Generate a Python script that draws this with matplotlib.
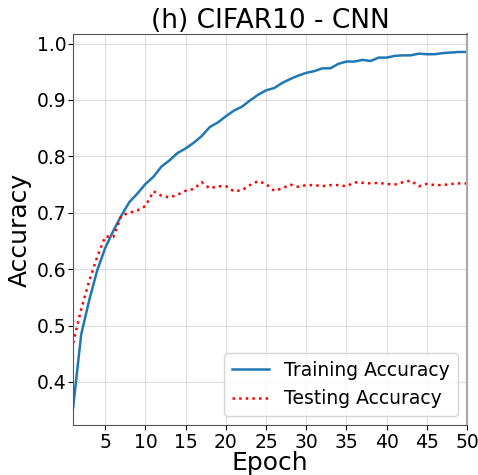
import numpy as np
import matplotlib.pyplot as plt

# --- values ---
epochs = np.arange(1, 51)

train_acc = [0.355, 0.484, 0.545, 0.598, 0.638, 0.668, 0.695, 0.719, 0.734, 0.751,
             0.764, 0.782, 0.793, 0.806, 0.814, 0.824, 0.836, 0.852, 0.860, 0.871,
             0.881, 0.888, 0.899, 0.909, 0.917, 0.921, 0.930, 0.937, 0.943, 0.948,
             0.951, 0.956, 0.956, 0.964, 0.968, 0.968, 0.971, 0.969, 0.975, 0.975,
             0.978, 0.979, 0.979, 0.982, 0.981, 0.981, 0.983, 0.984, 0.985, 0.985]

test_acc = [0.469, 0.529, 0.579, 0.622, 0.658, 0.657, 0.695, 0.700, 0.704, 0.712,
            0.738, 0.730, 0.727, 0.732, 0.739, 0.742, 0.754, 0.743, 0.747, 0.747,
            0.738, 0.740, 0.749, 0.756, 0.751, 0.739, 0.743, 0.750, 0.746, 0.749,
            0.749, 0.747, 0.749, 0.749, 0.747, 0.754, 0.753, 0.752, 0.753, 0.751,
            0.750, 0.754, 0.757, 0.747, 0.751, 0.749, 0.749, 0.751, 0.752, 0.752]

xticks = [5, 10, 15, 20, 25, 30, 35, 40, 45, 50]

fig, ax = plt.subplots(figsize=(4.78, 4.75), dpi=100)

ax.plot(epochs, train_acc, color='#1f77b4', linewidth=1.8, label='Training Accuracy')
ax.plot(epochs, test_acc, color='red', linestyle=':', linewidth=1.8, label='Testing Accuracy')

ax.set_xlim(1, 50)
ax.set_xticks(xticks)
ax.set_title("(h) CIFAR10 - CNN", fontsize=19, pad=3)
ax.set_xlabel("Epoch", fontsize=18, labelpad=-1)
ax.set_ylabel("Accuracy", fontsize=18, labelpad=3)
ax.tick_params(axis='x', labelsize=13.5, pad=2.5)
ax.tick_params(axis='y', labelsize=13.5, pad=1.5)
ax.grid(True, color='#dddddd', linewidth=0.8)
for s in ax.spines.values():
    s.set_color('#555555')
ax.spines['right'].set_color('#aaaaaa')
ax.spines['right'].set_linewidth(1.6)
ax.legend(loc='lower right', fontsize=13.5)

plt.subplots_adjust(left=0.153, right=0.977, top=0.928, bottom=0.105)
plt.savefig('out.png')
